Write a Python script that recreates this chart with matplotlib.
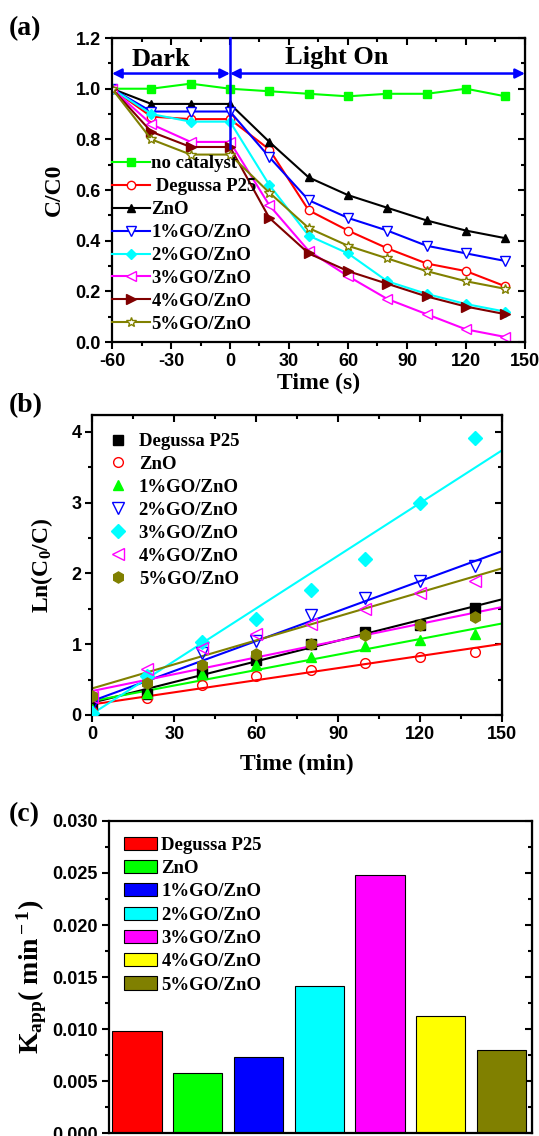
import numpy as np
import matplotlib
matplotlib.use("Agg")
import matplotlib.pyplot as plt
from matplotlib.ticker import MultipleLocator

plt.rcParams['font.family'] = ['Liberation Serif', 'DejaVu Serif']
plt.rcParams['font.weight'] = 'bold'
plt.rcParams['axes.unicode_minus'] = False
plt.rcParams['mathtext.fontset'] = 'custom'
plt.rcParams['mathtext.rm'] = 'Liberation Serif:bold'
plt.rcParams['mathtext.bf'] = 'Liberation Serif:bold'
plt.rcParams['mathtext.it'] = 'Liberation Serif:bold'

# (a) concentration vs time, dark adsorption then irradiation
time_a = [-60, -40, -20, 0, 20, 40, 60, 80, 100, 120, 140]
no_cat = [1.0, 1.0, 1.02, 1.0, 0.99, 0.98, 0.97, 0.98, 0.98, 1.0, 0.97]
p25_a = [1.0, 0.89, 0.88, 0.88, 0.76, 0.52, 0.44, 0.37, 0.31, 0.28, 0.22]
zno_a = [1.0, 0.94, 0.94, 0.94, 0.79, 0.65, 0.58, 0.53, 0.48, 0.44, 0.41]
go1_a = [1.0, 0.91, 0.91, 0.91, 0.73, 0.56, 0.49, 0.44, 0.38, 0.35, 0.32]
go2_a = [1.0, 0.90, 0.87, 0.87, 0.62, 0.42, 0.35, 0.24, 0.19, 0.15, 0.12]
go3_a = [1.0, 0.86, 0.79, 0.79, 0.54, 0.36, 0.26, 0.17, 0.11, 0.05, 0.02]
go4_a = [1.0, 0.83, 0.77, 0.77, 0.49, 0.35, 0.28, 0.23, 0.18, 0.14, 0.11]
go5_a = [1.0, 0.80, 0.74, 0.74, 0.59, 0.45, 0.38, 0.33, 0.28, 0.24, 0.21]

# (b) ln(C0/C) points and linear fits
time_b = [0, 20, 40, 60, 80, 100, 120, 140]
p25_b = [0.13, 0.30, 0.59, 0.78, 1.00, 1.17, 1.27, 1.51]
zno_b = [0.06, 0.24, 0.43, 0.55, 0.64, 0.73, 0.82, 0.89]
go1_b = [0.09, 0.31, 0.58, 0.71, 0.82, 0.97, 1.06, 1.15]
go2_b = [0.14, 0.48, 0.87, 1.05, 1.42, 1.65, 1.89, 2.11]
go3_b = [0.03, 0.55, 1.03, 1.35, 1.77, 2.21, 2.99, 3.91]
go4_b = [0.26, 0.65, 0.95, 1.14, 1.28, 1.50, 1.72, 1.89]
go5_b = [0.27, 0.45, 0.71, 0.86, 1.00, 1.13, 1.27, 1.39]
fit_colors = ['black', 'red', '#00ff00', 'blue', 'cyan', '#ff00ff', '#808000']
fit_intercept = [0.175, 0.15, 0.198, 0.20, 0.02, 0.34, 0.377]
fit_slope = [0.00973, 0.0057, 0.0073, 0.0141, 0.0248, 0.0079, 0.0113]

# (c) apparent rate constants
samples = ['Degussa P25', 'ZnO', '1%GO/ZnO', '2%GO/ZnO', '3%GO/ZnO', '4%GO/ZnO', '5%GO/ZnO']
k_app = [0.0098, 0.0058, 0.0073, 0.0141, 0.0248, 0.0113, 0.0080]
bar_colors = ['red', '#00ff00', 'blue', 'cyan', '#ff00ff', 'yellow', '#808000']

tick_font = {'family': 'Liberation Sans', 'weight': 'bold', 'size': 13}
lab_size = 17
leg_size = 13.5


def style_axes(ax, xmaj, xmin, ymaj, ymin, top=True):
    for s in ax.spines.values():
        s.set_linewidth(1.6)
    ax.xaxis.set_major_locator(MultipleLocator(xmaj))
    ax.xaxis.set_minor_locator(MultipleLocator(xmin))
    ax.yaxis.set_major_locator(MultipleLocator(ymaj))
    ax.yaxis.set_minor_locator(MultipleLocator(ymin))
    ax.tick_params(which='major', direction='out', length=5, width=1.5, pad=3)
    ax.tick_params(which='minor', direction='out', length=3, width=1.5)
    for lab in ax.get_xticklabels() + ax.get_yticklabels():
        lab.set_fontfamily(tick_font['family'])
        lab.set_fontweight('bold')
        lab.set_fontsize(tick_font['size'])
    # mirrored ticks pointing inwards on right / top
    r = ax.secondary_yaxis('right')
    r.yaxis.set_major_locator(MultipleLocator(ymaj))
    r.yaxis.set_minor_locator(MultipleLocator(ymin))
    r.tick_params(which='major', direction='in', length=5, width=1.5, labelright=False)
    r.tick_params(which='minor', direction='in', length=3, width=1.5)
    if top:
        t = ax.secondary_xaxis('top')
        t.xaxis.set_major_locator(MultipleLocator(xmaj))
        t.xaxis.set_minor_locator(MultipleLocator(xmin))
        t.tick_params(which='major', direction='in', length=5, width=1.5, labeltop=False)
        t.tick_params(which='minor', direction='in', length=3, width=1.5)


fig = plt.figure(figsize=(5.39, 11.36), dpi=100)

# ---- (a)
ax1 = fig.add_axes([0.2078, 0.6989, 0.7662, 0.2676])
ax1.plot(time_a, no_cat, color='#00ff00', marker='s', ms=5.5, lw=1.5, label='no catalyst')
ax1.plot(time_a, p25_a, color='red', marker='o', mfc='white', ms=6, lw=1.5, label=' Degussa P25')
ax1.plot(time_a, zno_a, color='black', marker='^', ms=6, lw=1.5, label='ZnO')
ax1.plot(time_a, go1_a, color='blue', marker='v', mfc='white', ms=6.5, lw=1.5, label='1%GO/ZnO')
ax1.plot(time_a, go2_a, color='cyan', marker='D', ms=5, lw=1.5, label='2%GO/ZnO')
ax1.plot(time_a, go3_a, color='#ff00ff', marker='<', mfc='white', ms=6.5, lw=1.5, label='3%GO/ZnO')
ax1.plot(time_a, go4_a, color='#800000', marker='>', ms=6.5, lw=1.5, label='4%GO/ZnO')
ax1.plot(time_a, go5_a, color='#808000', marker='*', mfc='white', ms=7.5, lw=1.5, label='5%GO/ZnO')
ax1.set_xlim(-60, 150)
ax1.set_ylim(0, 1.2)
style_axes(ax1, 30, 15, 0.2, 0.1)
ax1.set_yticks(np.arange(0, 1.21, 0.2))
ax1.set_yticklabels(['%.1f' % v for v in np.arange(0, 1.21, 0.2)], fontdict=tick_font)
ax1.set_xlabel('Time (s)', fontsize=lab_size, fontweight='bold', labelpad=2)
ax1.set_ylabel('C/C0', fontsize=lab_size, fontweight='bold', labelpad=8)

ax1.plot([0, 0], [0.765, 1.2], color='blue', lw=1.8, clip_on=False, zorder=5)
arrow = dict(arrowstyle='<|-|>', color='blue', lw=1.8, mutation_scale=14, shrinkA=0, shrinkB=0)
ax1.annotate('', xy=(-60, 1.06), xytext=(0, 1.06), arrowprops=arrow, annotation_clip=False)
ax1.annotate('', xy=(0, 1.06), xytext=(150, 1.06), arrowprops=arrow, annotation_clip=False)
ax1.text(-35, 1.117, 'Dark', fontsize=19, fontweight='bold', ha='center', va='center')
ax1.text(54, 1.125, 'Light On', fontsize=19, fontweight='bold', ha='center', va='center')
ax1.legend(loc='lower left', bbox_to_anchor=(0, 0.03), frameon=False, fontsize=leg_size,
           handlelength=2.0, handletextpad=0.1, labelspacing=0.31, borderpad=0, borderaxespad=0)
fig.text(0.016, 0.975, '(a)', fontsize=20, fontweight='bold', va='center')

# ---- (b)
ax2 = fig.add_axes([0.1716, 0.3706, 0.7597, 0.2641])
tt = np.array([0, 150])
for c, b0, k in zip(fit_colors, fit_intercept, fit_slope):
    ax2.plot(tt, b0 + k * tt, color=c, lw=1.5, zorder=2)
ax2.plot(time_b, p25_b, 's', color='black', ms=6.5, label='Degussa P25', zorder=3)
ax2.plot(time_b, zno_b, 'o', color='red', mfc='none', ms=7, label='ZnO', zorder=3)
ax2.plot(time_b, go1_b, '^', color='#00ff00', ms=7.5, label='1%GO/ZnO', zorder=3)
ax2.plot(time_b, go2_b, 'v', color='blue', mfc='none', ms=8, label='2%GO/ZnO', zorder=3)
ax2.plot(time_b, go3_b, 'D', color='cyan', ms=7, label='3%GO/ZnO', zorder=3)
ax2.plot(time_b, go4_b, '<', color='#ff00ff', mfc='none', ms=8, label='4%GO/ZnO', zorder=3)
ax2.plot(time_b, go5_b, 'h', color='#808000', ms=8, label='5%GO/ZnO', zorder=3)
ax2.set_xlim(0, 150)
ax2.set_ylim(0, 4.24)
style_axes(ax2, 30, 15, 1, 0.5)
ax2.set_xlabel('Time (min)', fontsize=lab_size, fontweight='bold', labelpad=8)
ax2.set_ylabel('Ln(C$_0$/C)', fontsize=lab_size, fontweight='bold', labelpad=12)
ax2.legend(loc='upper left', bbox_to_anchor=(0.035, 0.94), frameon=False, fontsize=leg_size,
           numpoints=1, handlelength=1.2, handletextpad=0.5, labelspacing=0.31,
           borderpad=0, borderaxespad=0)
fig.text(0.016, 0.643, '(b)', fontsize=20, fontweight='bold', va='center')

# ---- (c)
ax3 = fig.add_axes([0.2022, 0.0026, 0.7848, 0.2747])
pos = np.arange(1, len(samples) + 1)
ax3.bar(pos, k_app, width=0.81, color=bar_colors, edgecolor='black', linewidth=0.8, label=samples)
ax3.set_xlim(0.54, 7.5)
ax3.set_ylim(0, 0.030)
style_axes(ax3, 1, 1, 0.005, 0.0025, top=False)
ax3.set_xticks([])
ax3.set_xticks([], minor=True)
ax3.set_yticks(np.arange(0, 0.0301, 0.005))
ax3.set_yticklabels(['%.3f' % v for v in np.arange(0, 0.0301, 0.005)], fontdict=tick_font)
ax3.set_ylabel('K$_{\\rm app}$( min$^{\\rm -1}$)', fontsize=20, fontweight='bold', labelpad=2)
ax3.legend(loc='upper left', bbox_to_anchor=(0.035, 0.95), frameon=False, fontsize=leg_size,
           handlelength=1.75, handleheight=0.7, handletextpad=0.25, labelspacing=0.33,
           borderpad=0, borderaxespad=0)
fig.text(0.016, 0.283, '(c)', fontsize=20, fontweight='bold', va='center')

fig.savefig('out.png', dpi=100)
